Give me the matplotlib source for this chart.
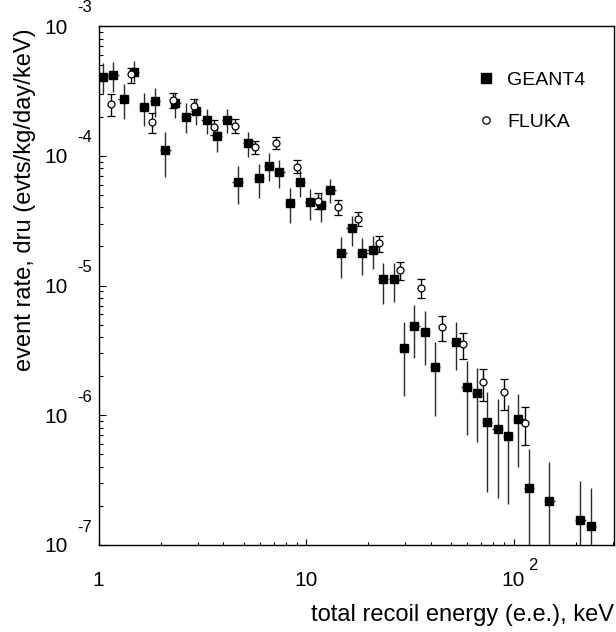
import numpy as np
import matplotlib
matplotlib.use("Agg")
import matplotlib.pyplot as plt
from matplotlib import transforms
from matplotlib.lines import Line2D
from matplotlib.ticker import LogLocator, NullFormatter

plt.rcParams["font.family"] = ["Liberation Sans", "DejaVu Sans"]

# GEANT4 spectrum (bin centre, rate, lower and upper end of error bar)
geant_e = [1.05, 1.18, 1.32, 1.48, 1.66, 1.87, 2.10, 2.35, 2.64, 2.96,
           3.32, 3.72, 4.16, 4.68, 5.26, 5.92, 6.64, 7.45, 8.35, 9.37,
           10.5, 11.75, 13.1, 14.8, 16.6, 18.7, 20.95, 23.5, 26.5, 29.7,
           33.3, 37.4, 41.9, 52.8, 59.4, 66.6, 74.7, 83.9, 94.1, 105.5,
           118.4, 149.0, 210.0, 236.0]
geant_rate = [4.07e-4, 4.19e-4, 2.74e-4, 4.45e-4, 2.38e-4, 2.64e-4, 1.11e-4, 2.54e-4, 2.00e-4, 2.23e-4,
              1.89e-4, 1.41e-4, 1.89e-4, 6.28e-5, 1.25e-4, 6.71e-5, 8.39e-5, 7.55e-5, 4.33e-5, 6.28e-5,
              4.38e-5, 4.18e-5, 5.45e-5, 1.77e-5, 2.76e-5, 1.77e-5, 1.87e-5, 1.12e-5, 1.12e-5, 3.32e-6,
              4.91e-6, 4.39e-6, 2.35e-6, 3.70e-6, 1.66e-6, 1.48e-6, 8.85e-7, 7.85e-7, 6.98e-7, 9.38e-7,
              2.77e-7, 2.20e-7, 1.56e-7, 1.39e-7]
geant_lo = [2.99e-4, 3.12e-4, 1.91e-4, 3.70e-4, 1.70e-4, 2.00e-4, 6.90e-5, 1.95e-4, 1.49e-4, 1.73e-4,
            1.47e-4, 1.06e-4, 1.51e-4, 4.23e-5, 9.74e-5, 4.75e-5, 6.40e-5, 5.68e-5, 3.05e-5, 4.84e-5,
            3.20e-5, 3.11e-5, 4.35e-5, 1.14e-5, 2.02e-5, 1.21e-5, 1.34e-5, 7.21e-6, 7.43e-6, 1.41e-6,
            2.75e-6, 2.44e-6, 9.95e-7, 2.24e-6, 7.06e-7, 6.27e-7, 2.58e-7, 2.30e-7, 2.07e-7, 3.98e-7,
            1e-8, 1e-8, 1e-8, 1e-8]
geant_hi = [5.16e-4, 5.25e-4, 3.57e-4, 5.37e-4, 3.03e-4, 3.31e-4, 1.53e-4, 3.06e-4, 2.54e-4, 2.74e-4,
            2.31e-4, 1.70e-4, 2.28e-4, 8.39e-5, 1.53e-4, 8.60e-5, 1.05e-4, 9.28e-5, 5.62e-5, 7.77e-5,
            5.55e-5, 5.14e-5, 6.59e-5, 2.38e-5, 3.46e-5, 2.31e-5, 2.41e-5, 1.50e-5, 1.49e-5, 5.22e-6,
            7.09e-6, 6.37e-6, 3.70e-6, 5.22e-6, 2.62e-6, 2.33e-6, 1.50e-6, 1.34e-6, 1.20e-6, 1.47e-6,
            5.48e-7, 4.40e-7, 3.12e-7, 2.77e-7]

# FLUKA spectrum
fluka_e = [1.145, 1.44, 1.81, 2.28, 2.87, 3.61, 4.53, 5.70, 7.18, 9.03,
           11.4, 14.2, 17.9, 22.6, 28.4, 35.9, 45.1, 56.9, 71.5, 90.0, 113.0]
fluka_rate = [2.51e-4, 4.25e-4, 1.81e-4, 2.69e-4, 2.43e-4, 1.66e-4, 1.70e-4, 1.16e-4, 1.25e-4, 8.24e-5,
              4.49e-5, 4.06e-5, 3.28e-5, 2.12e-5, 1.32e-5, 9.64e-6, 4.83e-6, 3.55e-6, 1.79e-6, 1.50e-6, 8.7e-7]
fluka_lo = [2.04e-4, 3.66e-4, 1.49e-4, 2.32e-4, 2.10e-4, 1.45e-4, 1.51e-4, 1.03e-4, 1.13e-4, 7.33e-5,
            3.87e-5, 3.50e-5, 2.89e-5, 1.82e-5, 1.10e-5, 7.98e-6, 3.76e-6, 2.73e-6, 1.29e-6, 1.10e-6, 5.92e-7]
fluka_hi = [2.99e-4, 4.77e-4, 2.13e-4, 3.06e-4, 2.72e-4, 1.89e-4, 1.91e-4, 1.31e-4, 1.39e-4, 9.28e-5,
            5.14e-5, 4.56e-5, 3.67e-5, 2.42e-5, 1.53e-5, 1.12e-5, 5.83e-6, 4.29e-6, 2.27e-6, 1.90e-6, 1.15e-6]

y_exponents = [-7, -6, -5, -4, -3]
x_ticks = [1, 10, 100]
x_tick_base = ["1", "10", "10"]
x_tick_exp = ["", "", "2"]


def main():
    W, H = 616, 632
    fig = plt.figure(figsize=(W / 100, H / 100), dpi=100)
    ax = fig.add_axes([98.5 / W, 87 / H, 515.5 / W, 519 / H])
    ax.set_xscale("log")
    ax.set_yscale("log")
    ax.set_xlim(1, 305)
    ax.set_ylim(1e-7, 1e-3)

    ge = np.array(geant_e)
    gr = np.array(geant_rate)
    half = 10 ** 0.025
    ax.errorbar(ge, gr, yerr=[gr - np.array(geant_lo), np.array(geant_hi) - gr],
                xerr=[ge - ge / half, ge * half - ge],
                fmt="s", ms=5.3, mfc="black", mec="black", ecolor="#2a2a2a",
                elinewidth=1.0, capsize=0, zorder=3)

    fe = np.array(fluka_e)
    fr = np.array(fluka_rate)
    ax.errorbar(fe, fr, yerr=[fr - np.array(fluka_lo), np.array(fluka_hi) - fr],
                fmt="o", ms=5.0, mfc="white", mec="black", mew=0.9, ecolor="black",
                elinewidth=1.0, capsize=2.9, capthick=1.0, zorder=4)

    # ROOT-like frame and ticks
    for s in ax.spines.values():
        s.set_linewidth(1.0)
    ax.tick_params(which="both", direction="in", top=False, right=False,
                   labelbottom=False, labelleft=False, width=0.8)
    ax.tick_params(axis="y", which="major", length=5)
    ax.tick_params(axis="y", which="minor", length=2.8)
    ax.tick_params(axis="x", which="major", length=4)
    ax.tick_params(axis="x", which="minor", length=2)
    ax.xaxis.set_major_locator(LogLocator(base=10, numticks=10))
    ax.xaxis.set_minor_locator(LogLocator(base=10, subs=np.arange(2, 10), numticks=20))
    ax.xaxis.set_minor_formatter(NullFormatter())
    ax.yaxis.set_minor_locator(LogLocator(base=10, subs=np.arange(2, 10), numticks=20))
    ax.yaxis.set_minor_formatter(NullFormatter())

    # y tick labels "10" with exponent up right
    ytr = transforms.blended_transform_factory(ax.transAxes, ax.transData)
    for e in y_exponents:
        off = transforms.ScaledTranslation(-30.5 / 100, -2 / 100, fig.dpi_scale_trans)
        ax.text(0, 10.0 ** e, "10", transform=ytr + off, ha="right", va="center",
                fontsize=15, clip_on=False)
        off2 = transforms.ScaledTranslation(-21 / 100, 18 / 100, fig.dpi_scale_trans)
        ax.text(0, 10.0 ** e, str(e), transform=ytr + off2, ha="left", va="center",
                fontsize=12, clip_on=False)

    # x tick labels
    xtr = transforms.blended_transform_factory(ax.transData, ax.transAxes)
    for v, b, ex in zip(x_ticks, x_tick_base, x_tick_exp):
        off = transforms.ScaledTranslation(0, -35 / 100, fig.dpi_scale_trans)
        ax.text(v, 0, b, transform=xtr + off, ha="center", va="center",
                fontsize=15, clip_on=False)
        if ex:
            off2 = transforms.ScaledTranslation(15 / 100, -20 / 100, fig.dpi_scale_trans)
            ax.text(v, 0, ex, transform=xtr + off2, ha="left", va="center",
                    fontsize=12, clip_on=False)

    fig.text(614 / W, 1 - 615 / H, "total recoil energy (e.e.), keV",
             ha="right", va="center", fontsize=17)
    fig.text(25 / W, 1 - 28 / H, "event rate, dru (evts/kg/day/keV)",
             ha="center", va="top", rotation=90, fontsize=17)

    handles = [Line2D([], [], ls="none", marker="s", ms=6.5, mfc="black", mec="black"),
               Line2D([], [], ls="none", marker="o", ms=5.3, mfc="white", mec="black", mew=0.9)]
    ax.legend(handles, ["GEANT4", "FLUKA"], loc="upper left",
              bbox_to_anchor=(476 / W, 1 - 71 / H), bbox_transform=fig.transFigure,
              frameon=False, fontsize=14, handlelength=1.0, handletextpad=0.6,
              labelspacing=1.26, borderpad=0, borderaxespad=0)

    fig.savefig("out.png", dpi=100)


if __name__ == "__main__":
    main()
